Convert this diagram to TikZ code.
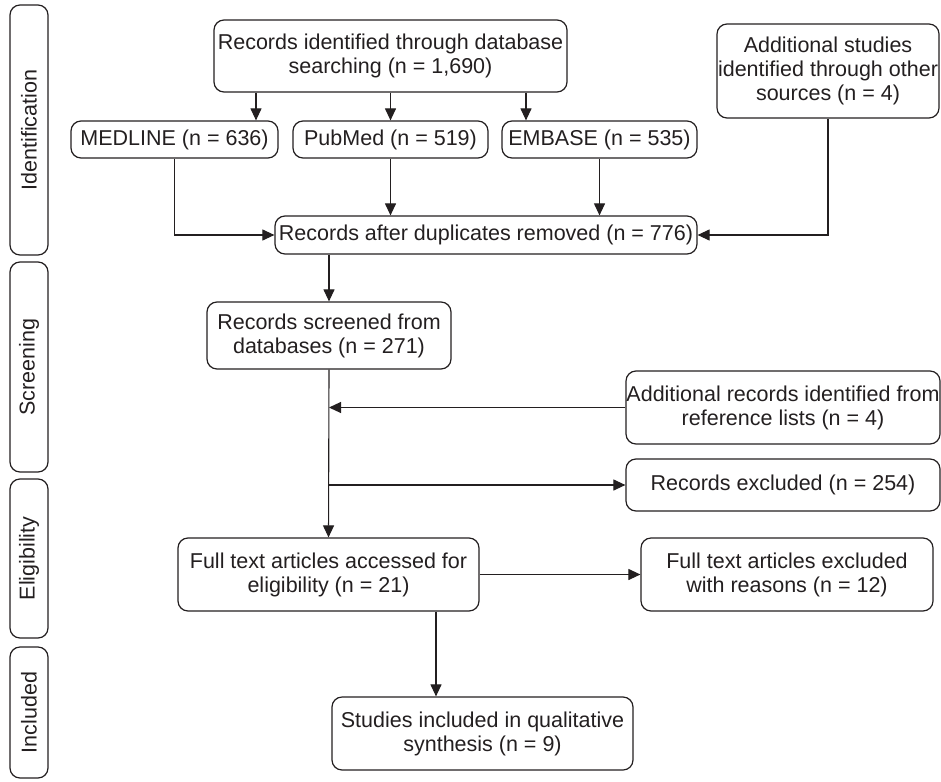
\documentclass[tikz,border=0pt]{standalone}
\usepackage{fontspec}
\setmainfont{Liberation Sans}
\usetikzlibrary{arrows.meta,calc}
\definecolor{ink}{HTML}{231F20}
\begin{document}
\begin{tikzpicture}[x=1pt,y=-1pt,
  every node/.style={font=\fontsize{21.5}{24}\selectfont, text=ink},
  box/.style={draw=ink, line width=1.2pt, rounded corners=10pt, inner sep=0pt, align=center},
  stagebox/.style={box, rotate=90, minimum height=38pt},
  arr/.style={draw=ink, line width=1.1pt, -{Triangle[length=12pt,width=11pt]}},
  ln/.style={draw=ink, line width=1.1pt}]
\useasboundingbox (0,0) rectangle (941,781);

% stage labels
\node[stagebox, minimum width=250pt] (sid) at (29,130) {Identification};
\node[stagebox, minimum width=210pt] (ssc) at (29,367) {Screening};
\node[stagebox, minimum width=159pt] (sel) at (29,558.5) {Eligibility};
\node[stagebox, minimum width=131pt] (sin) at (29,712.5) {Included};

% boxes
\node[box, minimum width=353pt, minimum height=72pt] (top) at (390.5,56) {Records identified through database\\searching (n = 1,690)};
\node[box, minimum width=207pt, minimum height=37pt] (med) at (174.5,139.5) {MEDLINE (n = 636)};
\node[box, minimum width=195pt, minimum height=37pt] (pub) at (390.5,139.5) {PubMed (n = 519)};
\node[box, minimum width=195pt, minimum height=37pt] (emb) at (599.5,139.5) {EMBASE (n = 535)};
\node[box, minimum width=222pt, minimum height=94pt] (add) at (828,71) {Additional studies\\identified through other\\sources (n = 4)};
\node[box, minimum width=422pt, minimum height=38pt] (dup) at (486,235) {Records after duplicates removed (n = 776)};
\node[box, minimum width=244pt, minimum height=67pt] (scr) at (329,335.5) {Records screened from\\databases (n = 271)};
\node[box, minimum width=314pt, minimum height=73pt] (addr) at (783,407.5) {Additional records identified from\\reference lists (n = 4)};
\node[box, minimum width=314pt, minimum height=52pt] (excl) at (783,485) {Records excluded (n = 254)};
\node[box, minimum width=301pt, minimum height=73pt] (full) at (328.5,574.5) {Full text articles accessed for\\eligibility (n = 21)};
\node[box, minimum width=292pt, minimum height=73pt] (fexc) at (787,574.5) {Full text articles excluded\\with reasons (n = 12)};
\node[box, minimum width=301pt, minimum height=73pt] (incl) at (482.5,733.5) {Studies included in qualitative\\synthesis (n = 9)};

% helper x positions
\coordinate (xa) at (256,0);
\coordinate (xb) at (526,0);
\coordinate (xc) at (436,0);

% connectors
\draw[arr] (top.south -| xa) -- (med.north -| xa);
\draw[arr] (top.south -| pub.north) -- (pub.north);
\draw[arr] (top.south -| xb) -- (emb.north -| xb);
\draw[arr] (med.south) -- (med.south |- dup.west) -- (dup.west);
\draw[arr] (pub.south) -- (pub.south |- dup.north);
\draw[arr] (emb.south) -- (emb.south |- dup.north);
\draw[arr] (add.south) -- (add.south |- dup.east) -- (dup.east);
\draw[arr] (dup.south -| scr.north) -- (scr.north);
\draw[arr] (scr.south) -- (full.north);
\draw[arr] (addr.west) -- (addr.west -| scr.south);
\draw[arr] (excl.west -| scr.south) -- (excl.west);
\draw[arr] (full.east) -- (fexc.west);
\draw[arr] (full.south -| xc) -- (incl.north -| xc);
\end{tikzpicture}
\end{document}
